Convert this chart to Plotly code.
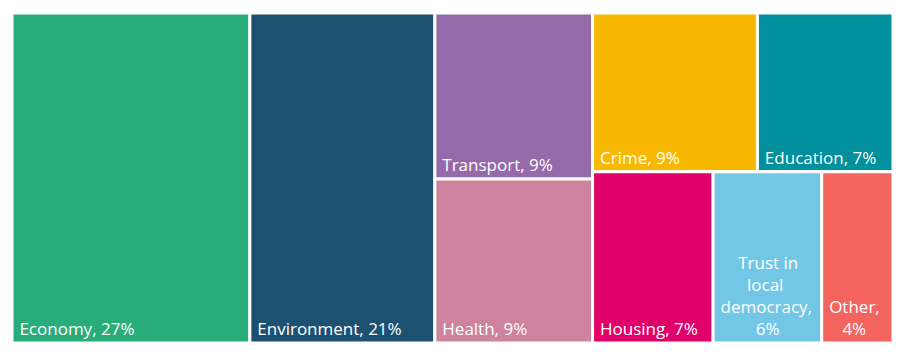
import plotly.graph_objects as go

categories = ["Economy", "Environment", "Transport", "Health", "Crime",
              "Education", "Housing", "Trust in local democracy", "Other"]
label_lines = [["Economy, {p}%"], ["Environment, {p}%"], ["Transport, {p}%"],
               ["Health, {p}%"], ["Crime, {p}%"], ["Education, {p}%"],
               ["Housing, {p}%"], ["Trust in", "local", "democracy,", "{p}%"],
               ["Other,", "{p}%"]]
shares = [27.0, 21.0, 9.0, 8.9, 9.0, 7.4, 7.1, 6.4, 4.2]
colors = ["#27AC7A", "#1C5172", "#9569AA", "#CD829D", "#F9B800",
          "#008F9C", "#E1006A", "#72C7E7", "#F4645E"]

FONT_SIZE = 17
NBSP = "\u00a0"
# approximate Open Sans advance widths (em)
CW = {"a": .556, "c": .478, "d": .613, "e": .561, "i": .253, "l": .253, "m": .93,
      "n": .614, "o": .604, "r": .408, "s": .477, "t": .353, "u": .614, "y": .5,
      "h": .614, "T": .543, "O": .765, ",": .245, " ": .26, "%": .833}


def width(s):
    return sum(CW.get(ch, .572) for ch in s)


def build_text(lines, pct):
    lines = [ln.format(p=pct) for ln in lines]
    if len(lines) > 1:
        w = max(width(ln) for ln in lines)
        lines = [NBSP * round((w - width(ln)) / 2 / CW[" "]) + ln for ln in lines]
    return "<br>".join(NBSP + ln for ln in lines)


texts = [build_text(ls, round(v)) for ls, v in zip(label_lines, shares)]

fig = go.Figure(go.Treemap(
    labels=categories,
    parents=[""] * len(categories),
    values=shares,
    text=texts,
    texttemplate="%{text}",
    textposition="bottom left",
    sort=False,
    tiling=dict(packing="squarify", squarifyratio=1, pad=0),
    marker=dict(colors=colors, line=dict(color="white", width=3), pad=dict(t=0, l=0, r=0, b=0)),
    textfont=dict(family="Open Sans", size=FONT_SIZE, color="white"),
    pathbar=dict(visible=False),
    hoverinfo="skip",
    root=dict(color="white"),
))

fig.update_layout(
    width=901, height=360,
    margin=dict(l=4, r=16, t=5, b=25),
    paper_bgcolor="white",
    plot_bgcolor="white",
    uniformtext=dict(minsize=FONT_SIZE, mode="show"),
    showlegend=False,
)

fig.write_html("out.html")
